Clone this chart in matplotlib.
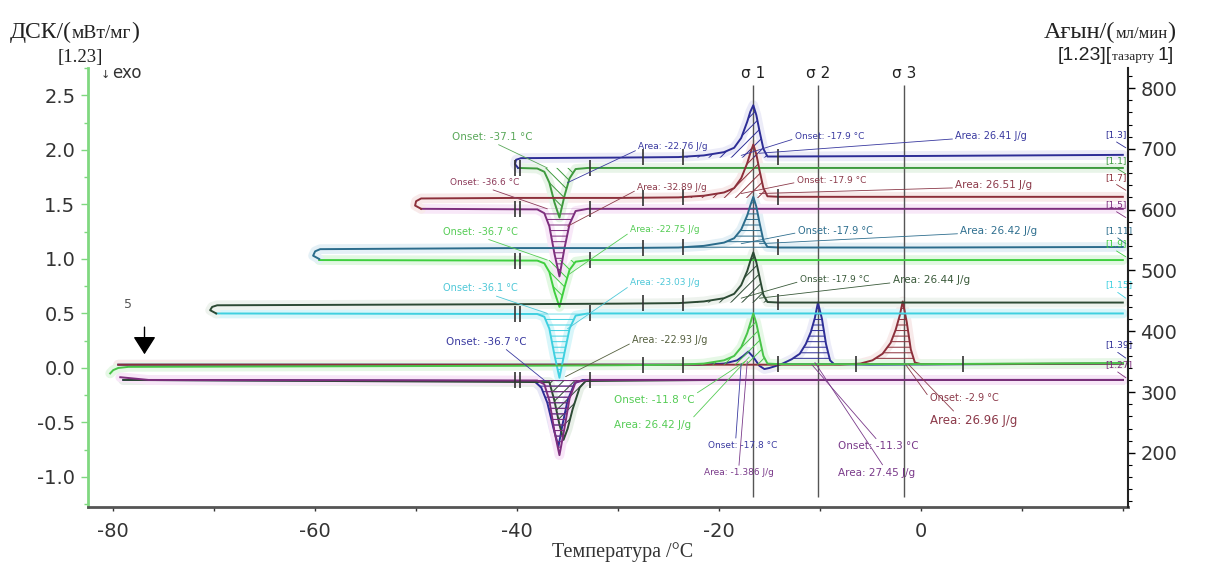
import numpy as np
import matplotlib
matplotlib.use('Agg')
import matplotlib.pyplot as plt

plt.rcParams['font.family'] = ['DejaVu Sans']
plt.rcParams['hatch.linewidth'] = 0.7

# ---------------- data ----------------
heat_T_peak = [-24.0, -21.5, -19.5, -18.5, -17.8, -17.2, -16.9, -16.6, -16.3,
               -16.0, -15.6, -15.2, -14.0, 0.0, 20.0]
cool_T = [20.0, 0.0, -20.0, -33.0, -34.2, -34.8, -35.3, -35.8, -36.3, -36.8,
          -37.3, -38.0]

# pair 1 (start -40 C)
h1_T = [-39.9, -40.2, -40.1, -39.6, -30.0] + heat_T_peak
h1_y = [1.835, 1.87, 1.91, 1.925, 1.93, 1.935, 1.95, 1.98, 2.02, 2.11, 2.26,
        2.35, 2.41, 2.32, 2.18, 2.01, 1.94, 1.94, 1.945, 1.955]
c1_T = cool_T + [-39.9]
c1_y = [1.835, 1.835, 1.835, 1.835, 1.825, 1.74, 1.58, 1.38, 1.52, 1.70, 1.80,
        1.83, 1.835]
# pair 2 (start -50 C)
h2_T = [-49.5, -50.1, -50.0, -49.5, -40.0, -30.0] + heat_T_peak
h2_y = [1.46, 1.49, 1.53, 1.555, 1.56, 1.56, 1.565, 1.58, 1.61, 1.65, 1.74,
        1.88, 1.97, 2.05, 1.96, 1.82, 1.65, 1.575, 1.57, 1.57, 1.57]
c2_T = cool_T + [-49.5]
c2_y = [1.46, 1.46, 1.46, 1.46, 1.44, 1.32, 1.10, 0.84, 1.05, 1.30, 1.42,
        1.455, 1.46]
# pair 3 (start -60 C)
h3_T = [-59.6, -60.2, -60.0, -59.5, -40.0, -30.0] + heat_T_peak
h3_y = [1.00, 1.03, 1.07, 1.09, 1.10, 1.10, 1.105, 1.12, 1.15, 1.19, 1.27,
        1.40, 1.49, 1.57, 1.48, 1.34, 1.17, 1.11, 1.105, 1.105, 1.11]
c3_T = cool_T + [-59.6]
c3_y = [0.99, 0.99, 0.99, 0.99, 0.975, 0.90, 0.74, 0.56, 0.70, 0.88, 0.96,
        0.985, 0.99]
# pair 4 (start -70 C)
h4_T = [-69.8, -70.4, -70.2, -69.7, -40.0, -30.0] + heat_T_peak
h4_y = [0.50, 0.53, 0.56, 0.575, 0.585, 0.59, 0.595, 0.61, 0.64, 0.68, 0.76,
        0.89, 0.98, 1.06, 0.97, 0.84, 0.67, 0.605, 0.60, 0.60, 0.60]
c4_T = cool_T + [-69.8]
c4_y = [0.50, 0.50, 0.50, 0.50, 0.48, 0.36, 0.14, -0.09, 0.12, 0.36, 0.47,
        0.495, 0.50]
# pair 5 (start -80 C)
h5_T = [-80.3, -80.0, -79.5, -78.5, -40.0, -30.0] + heat_T_peak
h5_y = [-0.05, -0.02, 0.0, 0.01, 0.02, 0.025, 0.03, 0.04, 0.07, 0.11, 0.19,
        0.32, 0.41, 0.50, 0.41, 0.28, 0.11, 0.04, 0.035, 0.035, 0.045]
c5_T = cool_T + [-76.5, -79.3]
c5_y = [-0.11, -0.11, -0.11, -0.11, -0.13, -0.28, -0.55, -0.80, -0.58, -0.30,
        -0.15, -0.115, -0.11, -0.085]
# extra bottom curves
nb_T = [-79.5, -60.0, -40.0, -22.0, -19.5, -18.2, -17.6, -17.1, -16.6, -16.0,
        -15.5, -15.0, -14.3, -13.7, -12.8, -12.0, -11.4, -10.9, -10.5, -10.2,
        -9.8, -9.4, -9.0, -8.6, -5.0, 20.0]
nb_y = [0.03, 0.03, 0.03, 0.03, 0.04, 0.07, 0.11, 0.15, 0.10, 0.02, -0.01,
        0.0, 0.02, 0.04, 0.08, 0.13, 0.22, 0.33, 0.46, 0.60, 0.45, 0.22, 0.07,
        0.035, 0.03, 0.04]
rb_T = [-79.5, -40.0, -20.0, -8.0, -6.0, -4.8, -3.8, -3.0, -2.5, -2.1, -1.8,
        -1.4, -1.0, -0.6, 0.0, 20.0]
rb_y = [0.03, 0.03, 0.03, 0.03, 0.04, 0.07, 0.13, 0.23, 0.35, 0.48, 0.61,
        0.42, 0.17, 0.05, 0.035, 0.04]
nc_T = [20.0, -20.0, -33.5, -34.3, -35.0, -35.5, -35.9, -36.4, -37.0, -37.6,
        -38.3, -79.0]
nc_y = [-0.11, -0.11, -0.11, -0.14, -0.30, -0.52, -0.72, -0.55, -0.32, -0.18,
        -0.12, -0.11]
gc_T = [20.0, -20.0, -33.2, -33.8, -34.5, -35.0, -35.4, -35.8, -36.3, -36.8,
        -79.0]
gc_y = [-0.11, -0.11, -0.12, -0.18, -0.38, -0.56, -0.66, -0.52, -0.30, -0.13,
        -0.11]

sigma_T = [-16.6, -10.2, -1.7]
sigma_labels = ['σ 1', 'σ 2', 'σ 3']

cool_limits = [-40.2, -39.7, -32.8]
heat_limits = [-27.5, -23.6, -14.2]
red_limits = [-6.4, 4.2]

x_ticks = [-80, -60, -40, -20, 0]
y_ticks = [2.5, 2.0, 1.5, 1.0, 0.5, 0.0, -0.5, -1.0]
flow_ticks = [200, 300, 400, 500, 600, 700, 800]

# colours
NAVY = '#2d2d96'
GREEN1 = '#3e9a3e'
DRED = '#8c2f3a'
PURPLE = '#7d2e7d'
TEAL = '#2b6c8c'
GREEN3 = '#3fcf3f'
DGREEN = '#2c4a34'
CYAN = '#3fd0e0'
GREEN5 = '#49c449'

# curve list: (T, y, color, baseline, fill window, hatch, zorder, halo)
curves = [
    (nc_T, nc_y, NAVY, -0.11, (-38.3, -33.5), '---', 3, '#e6e6f6'),
    (gc_T, gc_y, DGREEN, -0.11, (-36.8, -33.2), '///', 3, '#e8f0e8'),
    (c5_T, c5_y, PURPLE, -0.11, (-38.0, -33.0), '---', 4, '#f8e6f8'),
    (nb_T, nb_y, NAVY, 0.03, (-14.3, -8.6), '---', 4, '#ececf8'),
    (rb_T, rb_y, DRED, 0.03, (-6.0, -0.6), '---', 4, '#f8eaea'),
    (h5_T, h5_y, GREEN5, 0.03, (-24.0, -15.2), '///', 5, '#e6f8e6'),
    (c4_T, c4_y, CYAN, 0.50, (-38.0, -33.0), '---', 4, '#d8f6fa'),
    (h4_T, h4_y, DGREEN, 0.60, (-24.0, -15.2), '///', 5, '#eef3ee'),
    (c3_T, c3_y, GREEN3, 0.99, (-38.0, -33.0), '\\\\\\', 4, '#e2f8e2'),
    (h3_T, h3_y, TEAL, 1.10, (-24.0, -15.2), '---', 5, '#e4f0f6'),
    (c2_T, c2_y, PURPLE, 1.46, (-38.0, -33.0), '---', 4, '#f8e8f8'),
    (h2_T, h2_y, DRED, 1.56, (-24.0, -15.2), '///', 5, '#f8eaea'),
    (c1_T, c1_y, GREEN1, 1.835, (-38.0, -33.0), '\\\\\\', 4, '#e8f4e8'),
    (h1_T, h1_y, NAVY, 1.93, (-24.0, -15.2), '///', 5, '#ececf8'),
]

# annotations: (text, colour, T, y, size, target T, target y, relpos)
notes = [
    ('Onset: -37.1 °C', '#5aa85a', -46.4, 2.12, 7.5, -37.0, 1.835, (0.5, 0)),
    ('Area: -22.76 J/g', '#3a3aa0', -28.0, 2.03, 6.5, -35.0, 1.70, (0, 0.2)),
    ('Onset: -17.9 °C', '#3a3aa0', -12.5, 2.12, 6.5, -17.8, 1.95, (0, 0.3)),
    ('Area: 26.41 J/g', '#3a3aa0', 3.4, 2.13, 7, -16.0, 1.97, (0, 0.2)),
    ('Onset: -36.6 °C', '#8c3a5a', -46.6, 1.70, 6.5, -37.0, 1.46, (0.5, 0)),
    ('Area: -32.89 J/g', '#8c3a4a', -28.1, 1.66, 6.5, -35.0, 1.30, (0, 0.2)),
    ('Onset: -17.9 °C', '#8c3a4a', -12.3, 1.72, 6.5, -17.8, 1.60, (0, 0.3)),
    ('Area: 26.51 J/g', '#8c3a4a', 3.4, 1.68, 7.5, -16.0, 1.60, (0, 0.2)),
    ('Onset: -36.7 °C', '#55cc55', -47.3, 1.25, 7, -37.0, 0.99, (0.5, 0)),
    ('Area: -22.75 J/g', '#55cc55', -28.8, 1.27, 6.5, -35.0, 0.85, (0, 0.2)),
    ('Onset: -17.9 °C', '#2f6f8f', -12.2, 1.26, 7, -17.8, 1.14, (0, 0.3)),
    ('Area: 26.42 J/g', '#2f6f8f', 3.9, 1.26, 7.5, -16.0, 1.14, (0, 0.2)),
    ('Onset: -36.1 °C', '#4fc8d8', -47.3, 0.73, 7, -37.0, 0.50, (0.6, 0)),
    ('Area: -23.03 J/g', '#4fc8d8', -28.8, 0.78, 6.5, -35.0, 0.36, (0, 0.2)),
    ('Onset: -17.9 °C', '#3a5a3a', -12.0, 0.81, 6.5, -17.8, 0.64, (0, 0.3)),
    ('Area: 26.44 J/g', '#3a5a3a', -2.8, 0.81, 7.5, -16.0, 0.64, (0, 0.2)),
    ('Onset: -36.7 °C', '#3a3aa0', -47.0, 0.24, 7.5, -37.2, -0.12, (0.7, 0)),
    ('Area: -22.93 J/g', '#55603f', -28.6, 0.26, 7, -35.2, -0.08, (0, 0.2)),
    ('Onset: -11.8 °C', '#55cc55', -30.4, -0.29, 7.5, -17.4, 0.06, (1, 1)),
    ('Area: 26.42 J/g', '#55cc55', -30.4, -0.52, 7.5, -17.0, 0.10, (1, 1)),
    ('Onset: -17.8 °C', '#3a3aa0', -21.1, -0.71, 6.5, -17.8, 0.04, (0.4, 1)),
    ('Area: -1.386 J/g', '#7a3a8a', -21.5, -0.96, 6.5, -17.2, 0.06, (0.5, 1)),
    ('Onset: -11.3 °C', '#7a3a8a', -8.2, -0.72, 7.5, -10.8, 0.03, (0.5, 1)),
    ('Area: 27.45 J/g', '#7a3a8a', -8.2, -0.96, 7.5, -10.5, 0.05, (0.6, 1)),
    ('Onset: -2.9 °C', '#8c3a4a', 0.9, -0.28, 7, -1.5, 0.03, (0, 0.5)),
    ('Area: 26.96 J/g', '#8c3a4a', 0.9, -0.48, 8.5, -1.2, 0.03, (0.3, 1)),
]

# right-hand curve labels: (text, colour, y)
end_labels = [
    ('[1.3]', NAVY, 2.14), ('[1.1]', GREEN1, 1.90), ('[1.7]', DRED, 1.75),
    ('[1.5]', PURPLE, 1.50), ('[1.11]', TEAL, 1.26), ('[1.9]', GREEN3, 1.14),
    ('[1.15]', CYAN, 0.76), ('[1.39]', NAVY, 0.21), ('[1.27]', PURPLE, 0.03),
]

# ---------------- figure ----------------
fig = plt.figure(figsize=(12.05, 5.62), dpi=100)
ax = fig.add_axes([0.073, 0.098, 0.863, 0.781])
ax.set_xlim(-82.5, 20.5)
ax.set_ylim(-1.275, 2.752)

for T, y, col, base, win, hatch, z, halo in curves:
    T = np.asarray(T, float)
    y = np.asarray(y, float)
    ax.plot(T, y, color=halo, lw=7, solid_capstyle='round', zorder=1)
for T, y, col, base, win, hatch, z, halo in curves:
    T = np.asarray(T, float)
    y = np.asarray(y, float)
    ax.plot(T, y, color=col, lw=1.4, zorder=z)
    m = (T >= win[0]) & (T <= win[1])
    ax.fill_between(T[m], y[m], base, facecolor='none', edgecolor=col,
                    hatch=hatch, linewidth=0, zorder=z - 0.5)


def y_on(T, y, t):
    T = np.asarray(T, float)
    y = np.asarray(y, float)
    i = int(np.argmin(T))
    if T[0] > T[-1]:
        Ts, ys = T[::-1], y[::-1]
    else:
        Ts, ys = T[i:], y[i:]
    return np.interp(t, Ts, ys)


# integration limit ticks
for T, y in [(c1_T, c1_y), (c2_T, c2_y), (c3_T, c3_y), (c4_T, c4_y), (c5_T, c5_y)]:
    ax.plot(cool_limits, [y_on(T, y, t) for t in cool_limits], ls='none',
            marker='|', ms=11, mew=1.2, color='#333333', zorder=6)
for T, y in [(h1_T, h1_y), (h2_T, h2_y), (h3_T, h3_y), (h4_T, h4_y), (h5_T, h5_y)]:
    ax.plot(heat_limits, [y_on(T, y, t) for t in heat_limits], ls='none',
            marker='|', ms=11, mew=1.2, color='#333333', zorder=6)
ax.plot(red_limits, [y_on(h5_T, h5_y, t) for t in red_limits], ls='none',
        marker='|', ms=11, mew=1.2, color='#333333', zorder=6)

# sigma lines
ax.vlines(sigma_T, -1.18, 2.60, color='#555555', lw=1.0, zorder=2)
for t, lab in zip(sigma_T, sigma_labels):
    ax.text(t, 2.70, lab, ha='center', va='center', fontsize=11,
            color='#222222')

# annotations
for txt, col, tx, ty, fs, px, py, rp in notes:
    ax.annotate(txt, xy=(px, py), xytext=(tx, ty), ha='left', va='center',
                fontsize=fs, color=col, zorder=7,
                arrowprops=dict(arrowstyle='-', color=col, lw=0.6,
                                shrinkA=0, shrinkB=0, relpos=rp))

for txt, col, yy in end_labels:
    ax.annotate(txt, xy=(20.3, yy - 0.12), xytext=(18.3, yy), ha='left',
                va='center', fontsize=6.5, color=col, zorder=7,
                arrowprops=dict(arrowstyle='-', color=col, lw=0.6,
                                shrinkA=0, shrinkB=0, relpos=(0.3, 0)))

# arrow "5"
ax.text(-78.5, 0.58, '5', fontsize=9, color='#555555', ha='center', va='center')
ax.annotate('', xy=(-76.9, 0.10), xytext=(-76.9, 0.40),
            arrowprops=dict(arrowstyle='-|>,head_length=1.1,head_width=0.7',
                            color='black', lw=1.0))

# axes styling
for s in ['top', 'right']:
    ax.spines[s].set_visible(False)
ax.spines['left'].set_color('#80d880')
ax.spines['left'].set_linewidth(2)
ax.spines['bottom'].set_color('#555555')
ax.spines['bottom'].set_linewidth(2)
ax.set_xticks(x_ticks)
ax.set_xticks(np.arange(-80, 21, 10), minor=True)
ax.set_yticks(y_ticks)
ax.set_yticks(np.arange(-1.25, 2.76, 0.25), minor=True)
ax.set_xticklabels([str(v) for v in x_ticks])
ax.set_yticklabels(['%.1f' % v for v in y_ticks])
ax.tick_params(axis='x', which='both', length=3, width=1, color='#333333',
               labelsize=14, pad=8, labelcolor='#333333')
ax.tick_params(axis='y', which='major', length=5, width=1, color='#80d880',
               labelsize=14, pad=4, labelcolor='#333333')
ax.tick_params(axis='y', which='minor', length=3, width=1, color='#80d880')

ax2 = ax.twinx()
ax2.set_ylim(111, 833)
for s in ['top', 'left', 'bottom']:
    ax2.spines[s].set_visible(False)
ax2.spines['right'].set_color('#222222')
ax2.spines['right'].set_linewidth(1.5)
ax2.set_yticks(flow_ticks)
ax2.set_yticks(np.arange(120, 833, 20), minor=True)
ax2.tick_params(axis='y', which='major', length=5, width=1, labelsize=14,
                pad=4, labelcolor='#333333')
ax2.tick_params(axis='y', which='minor', length=3, width=0.8)

# axis titles (pieces placed one after another)
serif = ['Liberation Serif', 'DejaVu Serif']
renderer = fig.canvas.get_renderer()
W, H = fig.get_size_inches() * fig.dpi


def seq_text(x_px, y_px, parts):
    x = x_px
    for txt, fs, fam in parts:
        t = fig.text(x / W, 1 - y_px / H, txt, fontsize=fs, family=fam,
                     color='#222222', va='baseline', ha='left')
        x += t.get_window_extent(renderer).width


seq_text(10, 38, [('ДСК/(', 17, serif), ('мВт/мг', 14, serif), (')', 17, serif)])
seq_text(58, 62, [('[1.23]', 13.5, serif)])
fig.text(101 / W, 1 - 75 / H, '↓', fontsize=8, color='#333333', va='center',
         ha='left')
fig.text(112 / W, 1 - 73 / H, 'exo', fontsize=12, color='#333333',
         va='center', ha='left')

seq_text(1044, 38, [('Ағын/(', 17.5, serif), ('мл/мин', 12, serif), (')', 17.5, serif)])
seq_text(1058, 60, [('[1.23][', 14, 'Liberation Sans'), ('тазарту ', 9.5, serif),
                    ('1]', 14, 'Liberation Sans')])

fig.text(0.517, 0.018, 'Температура /°C', fontsize=14.5, family=serif,
         color='#333333', va='center', ha='center')

fig.savefig('out.png', dpi=100)
